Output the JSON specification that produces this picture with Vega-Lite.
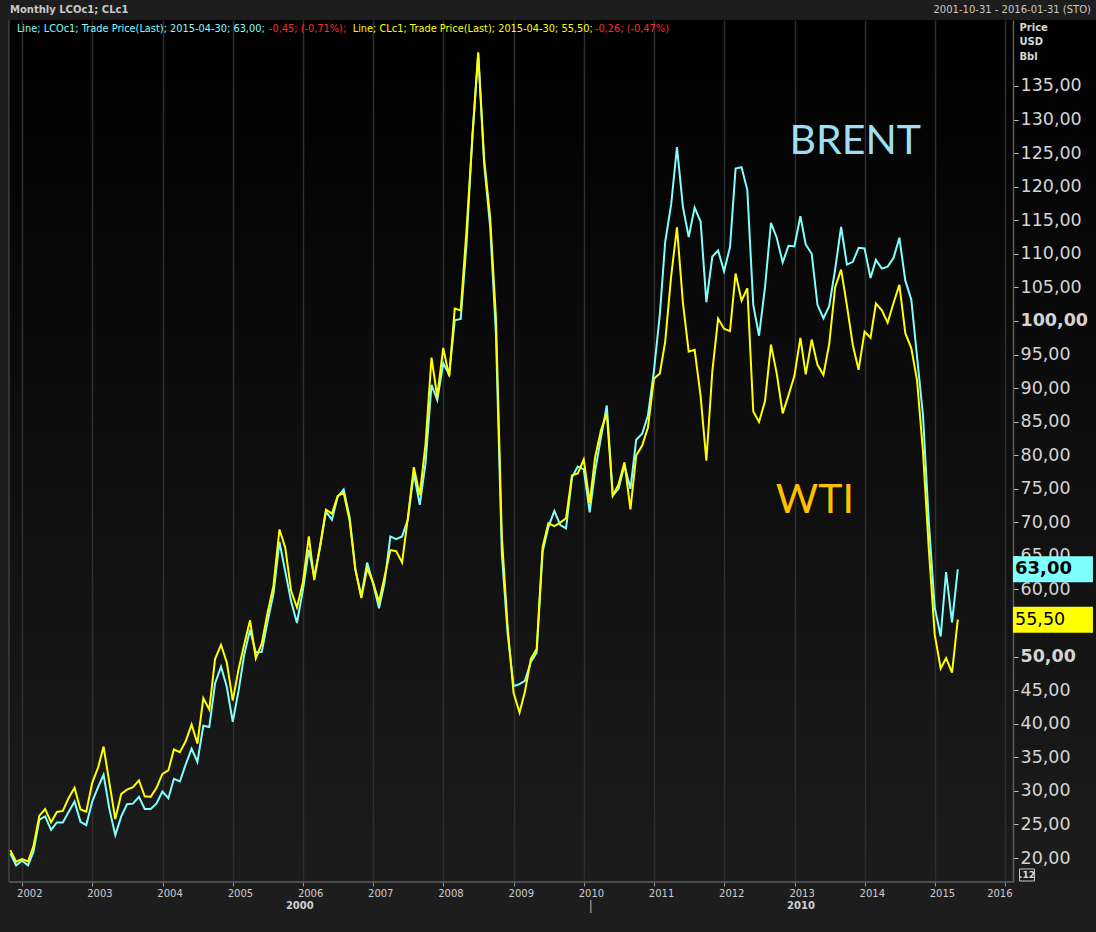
{
  "$schema": "https://vega.github.io/schema/vega-lite/v6.json",
  "width": 1087,
  "height": 862,
  "autosize": {"type": "none"},
  "padding": {"left": 9, "top": 20, "right": 0, "bottom": 50},
  "background": "#1d1d1d",
  "config": {
    "locale": {"number": {"decimal": ",", "thousands": ".", "grouping": [3], "currency": ["", ""]}},
    "view": {"stroke": null, "fill": {"gradient": "linear", "x1": 0, "y1": 0, "x2": 0, "y2": 1, "stops": [{"offset": 0, "color": "#000000"}, {"offset": 1, "color": "#1c1c1c"}]}},
    "axisY": {"labelOverlap": false, "labelBound": false, "labelSeparation": -40},
    "text": {"font": "DejaVu Sans"}
  },
  "datasets": {
    "brent": [
      {"date":"2001-10-31","price":20.7},{"date":"2001-11-30","price":18.9},{"date":"2001-12-31","price":19.6},
      {"date":"2002-01-31","price":18.9},{"date":"2002-02-28","price":20.9},{"date":"2002-03-31","price":25.7},{"date":"2002-04-30","price":26.2},{"date":"2002-05-31","price":24.2},{"date":"2002-06-30","price":25.3},{"date":"2002-07-31","price":25.3},{"date":"2002-08-31","price":26.9},{"date":"2002-09-30","price":28.4},{"date":"2002-10-31","price":25.4},{"date":"2002-11-30","price":24.9},{"date":"2002-12-31","price":28.4},
      {"date":"2003-01-31","price":30.6},{"date":"2003-02-28","price":32.4},{"date":"2003-03-31","price":27.2},{"date":"2003-04-30","price":23.4},{"date":"2003-05-31","price":26.2},{"date":"2003-06-30","price":28.0},{"date":"2003-07-31","price":28.1},{"date":"2003-08-31","price":29.1},{"date":"2003-09-30","price":27.3},{"date":"2003-10-31","price":27.3},{"date":"2003-11-30","price":28.1},{"date":"2003-12-31","price":29.9},
      {"date":"2004-01-31","price":28.9},{"date":"2004-02-29","price":31.8},{"date":"2004-03-31","price":31.4},{"date":"2004-04-30","price":33.9},{"date":"2004-05-31","price":36.3},{"date":"2004-06-30","price":34.3},{"date":"2004-07-31","price":39.7},{"date":"2004-08-31","price":39.5},{"date":"2004-09-30","price":46.0},{"date":"2004-10-31","price":48.5},{"date":"2004-11-30","price":45.5},{"date":"2004-12-31","price":40.3},
      {"date":"2005-01-31","price":45.0},{"date":"2005-02-28","price":50.2},{"date":"2005-03-31","price":54.0},{"date":"2005-04-30","price":50.6},{"date":"2005-05-31","price":50.7},{"date":"2005-06-30","price":55.2},{"date":"2005-07-31","price":59.4},{"date":"2005-08-31","price":67.1},{"date":"2005-09-30","price":62.7},{"date":"2005-10-31","price":58.2},{"date":"2005-11-30","price":55.0},{"date":"2005-12-31","price":59.9},
      {"date":"2006-01-31","price":65.9},{"date":"2006-02-28","price":61.9},{"date":"2006-03-31","price":66.4},{"date":"2006-04-30","price":71.6},{"date":"2006-05-31","price":70.4},{"date":"2006-06-30","price":73.8},{"date":"2006-07-31","price":74.9},{"date":"2006-08-31","price":70.8},{"date":"2006-09-30","price":63.0},{"date":"2006-10-31","price":59.0},{"date":"2006-11-30","price":64.0},{"date":"2006-12-31","price":60.9},
      {"date":"2007-01-31","price":57.2},{"date":"2007-02-28","price":60.9},{"date":"2007-03-31","price":67.9},{"date":"2007-04-30","price":67.5},{"date":"2007-05-31","price":67.9},{"date":"2007-06-30","price":70.4},{"date":"2007-07-31","price":77.3},{"date":"2007-08-31","price":72.6},{"date":"2007-09-30","price":78.8},{"date":"2007-10-31","price":90.5},{"date":"2007-11-30","price":88.2},{"date":"2007-12-31","price":93.7},
      {"date":"2008-01-31","price":92.0},{"date":"2008-02-29","price":100.1},{"date":"2008-03-31","price":100.3},{"date":"2008-04-30","price":111.4},{"date":"2008-05-31","price":127.8},{"date":"2008-06-30","price":139.8},{"date":"2008-07-31","price":123.3},{"date":"2008-08-31","price":114.1},{"date":"2008-09-30","price":98.2},{"date":"2008-10-31","price":65.3},{"date":"2008-11-30","price":53.5},{"date":"2008-12-31","price":45.6},
      {"date":"2009-01-31","price":45.9},{"date":"2009-02-28","price":46.4},{"date":"2009-03-31","price":49.2},{"date":"2009-04-30","price":50.6},{"date":"2009-05-31","price":65.6},{"date":"2009-06-30","price":69.3},{"date":"2009-07-31","price":71.7},{"date":"2009-08-31","price":69.6},{"date":"2009-09-30","price":69.1},{"date":"2009-10-31","price":76.7},{"date":"2009-11-30","price":78.3},{"date":"2009-12-31","price":77.9},
      {"date":"2010-01-31","price":71.5},{"date":"2010-02-28","price":77.6},{"date":"2010-03-31","price":82.7},{"date":"2010-04-30","price":87.4},{"date":"2010-05-31","price":74.0},{"date":"2010-06-30","price":75.0},{"date":"2010-07-31","price":78.5},{"date":"2010-08-31","price":75.0},{"date":"2010-09-30","price":82.3},{"date":"2010-10-31","price":83.2},{"date":"2010-11-30","price":85.9},{"date":"2010-12-31","price":92.5},
      {"date":"2011-01-31","price":101.0},{"date":"2011-02-28","price":111.8},{"date":"2011-03-31","price":117.4},{"date":"2011-04-30","price":125.9},{"date":"2011-05-31","price":117.0},{"date":"2011-06-30","price":112.5},{"date":"2011-07-31","price":116.9},{"date":"2011-08-31","price":114.8},{"date":"2011-09-30","price":102.8},{"date":"2011-10-31","price":109.6},{"date":"2011-11-30","price":110.5},{"date":"2011-12-31","price":107.4},
      {"date":"2012-01-31","price":111.0},{"date":"2012-02-29","price":122.7},{"date":"2012-03-31","price":122.9},{"date":"2012-04-30","price":119.5},{"date":"2012-05-31","price":102.4},{"date":"2012-06-30","price":97.8},{"date":"2012-07-31","price":105.0},{"date":"2012-08-31","price":114.6},{"date":"2012-09-30","price":112.4},{"date":"2012-10-31","price":108.7},{"date":"2012-11-30","price":111.2},{"date":"2012-12-31","price":111.1},
      {"date":"2013-01-31","price":115.6},{"date":"2013-02-28","price":111.4},{"date":"2013-03-31","price":110.0},{"date":"2013-04-30","price":102.4},{"date":"2013-05-31","price":100.4},{"date":"2013-06-30","price":102.2},{"date":"2013-07-31","price":107.7},{"date":"2013-08-31","price":114.0},{"date":"2013-09-30","price":108.4},{"date":"2013-10-31","price":108.8},{"date":"2013-11-30","price":110.9},{"date":"2013-12-31","price":110.8},
      {"date":"2014-01-31","price":106.4},{"date":"2014-02-28","price":109.1},{"date":"2014-03-31","price":107.8},{"date":"2014-04-30","price":108.1},{"date":"2014-05-31","price":109.4},{"date":"2014-06-30","price":112.4},{"date":"2014-07-31","price":106.0},{"date":"2014-08-31","price":103.2},{"date":"2014-09-30","price":94.7},{"date":"2014-10-31","price":85.9},{"date":"2014-11-30","price":70.2},{"date":"2014-12-31","price":57.3},
      {"date":"2015-01-31","price":53.0},{"date":"2015-02-28","price":62.6},{"date":"2015-03-31","price":55.1},{"date":"2015-04-30","price":63.0}
    ],
    "wti": [
      {"date":"2001-10-31","price":21.18},{"date":"2001-11-30","price":19.44},{"date":"2001-12-31","price":19.84},
      {"date":"2002-01-31","price":19.48},{"date":"2002-02-28","price":21.74},{"date":"2002-03-31","price":26.31},{"date":"2002-04-30","price":27.29},{"date":"2002-05-31","price":25.31},{"date":"2002-06-30","price":26.86},{"date":"2002-07-31","price":27.02},{"date":"2002-08-31","price":28.98},{"date":"2002-09-30","price":30.45},{"date":"2002-10-31","price":27.22},{"date":"2002-11-30","price":26.89},{"date":"2002-12-31","price":31.2},
      {"date":"2003-01-31","price":33.51},{"date":"2003-02-28","price":36.6},{"date":"2003-03-31","price":31.04},{"date":"2003-04-30","price":25.8},{"date":"2003-05-31","price":29.56},{"date":"2003-06-30","price":30.19},{"date":"2003-07-31","price":30.54},{"date":"2003-08-31","price":31.57},{"date":"2003-09-30","price":29.2},{"date":"2003-10-31","price":29.11},{"date":"2003-11-30","price":30.41},{"date":"2003-12-31","price":32.52},
      {"date":"2004-01-31","price":33.05},{"date":"2004-02-29","price":36.16},{"date":"2004-03-31","price":35.76},{"date":"2004-04-30","price":37.38},{"date":"2004-05-31","price":39.88},{"date":"2004-06-30","price":37.05},{"date":"2004-07-31","price":43.8},{"date":"2004-08-31","price":42.12},{"date":"2004-09-30","price":49.64},{"date":"2004-10-31","price":51.76},{"date":"2004-11-30","price":49.13},{"date":"2004-12-31","price":43.45},
      {"date":"2005-01-31","price":48.2},{"date":"2005-02-28","price":51.75},{"date":"2005-03-31","price":55.4},{"date":"2005-04-30","price":49.72},{"date":"2005-05-31","price":51.97},{"date":"2005-06-30","price":56.5},{"date":"2005-07-31","price":60.57},{"date":"2005-08-31","price":68.94},{"date":"2005-09-30","price":66.24},{"date":"2005-10-31","price":59.76},{"date":"2005-11-30","price":57.32},{"date":"2005-12-31","price":61.04},
      {"date":"2006-01-31","price":67.92},{"date":"2006-02-28","price":61.41},{"date":"2006-03-31","price":66.63},{"date":"2006-04-30","price":71.88},{"date":"2006-05-31","price":71.29},{"date":"2006-06-30","price":73.93},{"date":"2006-07-31","price":74.4},{"date":"2006-08-31","price":70.26},{"date":"2006-09-30","price":62.91},{"date":"2006-10-31","price":58.73},{"date":"2006-11-30","price":63.13},{"date":"2006-12-31","price":61.05},
      {"date":"2007-01-31","price":58.14},{"date":"2007-02-28","price":61.79},{"date":"2007-03-31","price":65.87},{"date":"2007-04-30","price":65.71},{"date":"2007-05-31","price":64.01},{"date":"2007-06-30","price":70.68},{"date":"2007-07-31","price":78.21},{"date":"2007-08-31","price":74.04},{"date":"2007-09-30","price":81.66},{"date":"2007-10-31","price":94.53},{"date":"2007-11-30","price":88.71},{"date":"2007-12-31","price":95.98},
      {"date":"2008-01-31","price":91.75},{"date":"2008-02-29","price":101.84},{"date":"2008-03-31","price":101.58},{"date":"2008-04-30","price":113.46},{"date":"2008-05-31","price":127.35},{"date":"2008-06-30","price":140.0},{"date":"2008-07-31","price":124.08},{"date":"2008-08-31","price":115.46},{"date":"2008-09-30","price":100.64},{"date":"2008-10-31","price":67.81},{"date":"2008-11-30","price":54.43},{"date":"2008-12-31","price":44.6},
      {"date":"2009-01-31","price":41.68},{"date":"2009-02-28","price":44.76},{"date":"2009-03-31","price":49.66},{"date":"2009-04-30","price":51.12},{"date":"2009-05-31","price":66.31},{"date":"2009-06-30","price":69.89},{"date":"2009-07-31","price":69.45},{"date":"2009-08-31","price":69.96},{"date":"2009-09-30","price":70.61},{"date":"2009-10-31","price":77.0},{"date":"2009-11-30","price":77.28},{"date":"2009-12-31","price":79.36},
      {"date":"2010-01-31","price":72.89},{"date":"2010-02-28","price":79.66},{"date":"2010-03-31","price":83.76},{"date":"2010-04-30","price":86.15},{"date":"2010-05-31","price":73.97},{"date":"2010-06-30","price":75.63},{"date":"2010-07-31","price":78.95},{"date":"2010-08-31","price":71.92},{"date":"2010-09-30","price":79.97},{"date":"2010-10-31","price":81.43},{"date":"2010-11-30","price":84.11},{"date":"2010-12-31","price":91.38},
      {"date":"2011-01-31","price":92.19},{"date":"2011-02-28","price":96.97},{"date":"2011-03-31","price":106.72},{"date":"2011-04-30","price":113.93},{"date":"2011-05-31","price":102.7},{"date":"2011-06-30","price":95.42},{"date":"2011-07-31","price":95.7},{"date":"2011-08-31","price":88.81},{"date":"2011-09-30","price":79.2},{"date":"2011-10-31","price":92.5},{"date":"2011-11-30","price":100.36},{"date":"2011-12-31","price":98.83},
      {"date":"2012-01-31","price":98.48},{"date":"2012-02-29","price":107.07},{"date":"2012-03-31","price":103.02},{"date":"2012-04-30","price":104.87},{"date":"2012-05-31","price":86.53},{"date":"2012-06-30","price":84.96},{"date":"2012-07-31","price":88.06},{"date":"2012-08-31","price":96.47},{"date":"2012-09-30","price":92.19},{"date":"2012-10-31","price":86.24},{"date":"2012-11-30","price":88.91},{"date":"2012-12-31","price":91.82},
      {"date":"2013-01-31","price":97.49},{"date":"2013-02-28","price":92.05},{"date":"2013-03-31","price":97.23},{"date":"2013-04-30","price":93.46},{"date":"2013-05-31","price":91.97},{"date":"2013-06-30","price":96.56},{"date":"2013-07-31","price":105.03},{"date":"2013-08-31","price":107.65},{"date":"2013-09-30","price":102.33},{"date":"2013-10-31","price":96.38},{"date":"2013-11-30","price":92.72},{"date":"2013-12-31","price":98.42},
      {"date":"2014-01-31","price":97.49},{"date":"2014-02-28","price":102.59},{"date":"2014-03-31","price":101.58},{"date":"2014-04-30","price":99.74},{"date":"2014-05-31","price":102.71},{"date":"2014-06-30","price":105.37},{"date":"2014-07-31","price":98.17},{"date":"2014-08-31","price":95.96},{"date":"2014-09-30","price":91.16},{"date":"2014-10-31","price":80.54},{"date":"2014-11-30","price":66.15},{"date":"2014-12-31","price":53.27},
      {"date":"2015-01-31","price":48.24},{"date":"2015-02-28","price":49.76},{"date":"2015-03-31","price":47.6},{"date":"2015-04-30","price":55.5}
    ],
    "last": [
      {"series":"Brent","price":63.0},
      {"series":"WTI","price":55.5}
    ]
  },
  "layer": [
    {
      "data": {"name": "brent"},
      "mark": {"type": "line", "color": "#80ffff", "strokeWidth": 2},
      "encoding": {
        "x": {"field": "date", "type": "temporal",
          "scale": {"type": "utc", "domain": [{"year": 2001, "month": 10, "date": 24, "utc": true}, {"year": 2017, "month": 4, "date": 18, "utc": true}], "nice": false},
          "axis": {
            "values": [{"year":2002,"utc":true},{"year":2003,"utc":true},{"year":2004,"utc":true},{"year":2005,"utc":true},{"year":2006,"utc":true},{"year":2007,"utc":true},{"year":2008,"utc":true},{"year":2009,"utc":true},{"year":2010,"utc":true},{"year":2011,"utc":true},{"year":2012,"utc":true},{"year":2013,"utc":true},{"year":2014,"utc":true},{"year":2015,"utc":true},{"year":2016,"utc":true}],
            "format": "%Y", "formatType": "utc",
            "grid": true, "gridColor": "#2f2f2f", "gridWidth": 1.5,
            "domain": false,
            "ticks": true, "tickColor": "#9a9a9a", "tickSize": 4,
            "labelColor": "#cdcdcd", "labelFont": "DejaVu Sans", "labelFontSize": 10, "labelPadding": 2, "labelOffset": 7,
            "labelAlign": {"condition": {"test": "utcyear(datum.value) == 2016", "value": "right"}, "value": "center"},
            "labelFlush": false,
            "title": null
          }
        },
        "y": {"field": "price", "type": "quantitative",
          "scale": {"domain": [16.425, 144.83], "nice": false, "zero": false},
          "axis": {
            "orient": "right", "offset": -83,
            "values": [20,25,30,35,40,45,50,55,60,65,70,75,80,85,90,95,100,105,110,115,120,125,130,135],
            "tickCount": 24,
            "format": ".2f",
            "grid": false,
            "domain": true, "domainColor": "#5e5e5e", "domainWidth": 1.5,
            "ticks": true, "tickColor": "#c0c0c0", "tickSize": 5,
            "labelColor": "#d4d4d4", "labelFont": "DejaVu Sans", "labelFontSize": 17.5, "labelPadding": 2,
            "labelOverlap": false, "labelBound": false, "labelSeparation": -40,
            "labelFontWeight": {"condition": {"test": "datum.value == 50 || datum.value == 100", "value": "bold"}, "value": "normal"},
            "title": ["Price", "USD", "Bbl"],
            "titleAngle": 0, "titleAlign": "left", "titleBaseline": "top",
            "titleX": 6, "titleY": 2,
            "titleFont": "DejaVu Sans", "titleFontSize": 10, "titleFontWeight": "bold", "titleColor": "#d8d8d8", "titleLineHeight": 14.5
          }
        }
      }
    },
    {
      "data": {"name": "wti"},
      "mark": {"type": "line", "color": "#ffff00", "strokeWidth": 2},
      "encoding": {
        "x": {"field": "date", "type": "temporal"},
        "y": {"field": "price", "type": "quantitative"}
      }
    },
    {
      "data": {"values": [{}]},
      "mark": {"type": "rule", "color": "#5e5e5e", "strokeWidth": 1.5},
      "encoding": {
        "x": {"datum": {"year": 2001, "month": 10, "date": 24, "utc": true}, "type": "temporal"},
        "x2": {"datum": {"year": 2016, "month": 2, "date": 11, "utc": true}},
        "y": {"datum": 16.425, "type": "quantitative"}
      }
    },
    {
      "data": {"values": [{}]},
      "mark": {"type": "rule", "color": "#555555", "strokeWidth": 1},
      "encoding": {
        "x": {"datum": {"year": 2001, "month": 10, "date": 24, "utc": true}, "type": "temporal"},
        "y": {"datum": 16.425, "type": "quantitative"},
        "y2": {"datum": 144.83}
      }
    },
    {
      "data": {"values": [{}]},
      "mark": {"type": "rule", "color": "#bbbbbb", "strokeWidth": 1},
      "encoding": {
        "x": {"datum": {"year": 2010, "month": 2, "date": 6, "utc": true}, "type": "temporal"},
        "y": {"datum": 13.74, "type": "quantitative"},
        "y2": {"datum": 11.81}
      }
    },
    {
      "data": {"values": [{}]},
      "mark": {"type": "text", "text": "2000", "font": "DejaVu Sans", "fontSize": 10, "fontWeight": "bold", "color": "#d0d0d0", "align": "center", "baseline": "middle"},
      "encoding": {
        "x": {"datum": {"year": 2005, "month": 12, "date": 15, "utc": true}, "type": "temporal"},
        "y": {"datum": 12.85, "type": "quantitative"}
      }
    },
    {
      "data": {"values": [{}]},
      "mark": {"type": "text", "text": "2010", "font": "DejaVu Sans", "fontSize": 10, "fontWeight": "bold", "color": "#d0d0d0", "align": "center", "baseline": "middle"},
      "encoding": {
        "x": {"datum": {"year": 2013, "month": 2, "date": 3, "utc": true}, "type": "temporal"},
        "y": {"datum": 12.85, "type": "quantitative"}
      }
    },
    {
      "data": {"values": [{}]},
      "mark": {"type": "point", "shape": "M-1,-0.8H1V0.8H-1Z", "size": 225, "filled": false, "stroke": "#cccccc", "strokeWidth": 1, "opacity": 1},
      "encoding": {
        "x": {"datum": {"year": 2016, "month": 4, "date": 24, "utc": true}, "type": "temporal"},
        "y": {"datum": 17.47, "type": "quantitative"}
      }
    },
    {
      "data": {"values": [{}]},
      "mark": {"type": "text", "text": ".12", "font": "DejaVu Sans", "fontSize": 9, "fontWeight": "bold", "color": "#dddddd", "align": "center", "baseline": "middle"},
      "encoding": {
        "x": {"datum": {"year": 2016, "month": 4, "date": 24, "utc": true}, "type": "temporal"},
        "y": {"datum": 17.47, "type": "quantitative"}
      }
    },
    {
      "data": {"values": [{}]},
      "mark": {"type": "text", "text": "Monthly LCOc1; CLc1", "font": "DejaVu Sans", "fontSize": 10, "fontWeight": "bold", "color": "#c8c8c8", "align": "left", "baseline": "middle"},
      "encoding": {
        "x": {"datum": {"year": 2001, "month": 10, "date": 29, "utc": true}, "type": "temporal"},
        "y": {"datum": 146.25, "type": "quantitative"}
      }
    },
    {
      "data": {"values": [{}]},
      "mark": {"type": "text", "text": "2001-10-31 - 2016-01-31 (STO)", "font": "DejaVu Sans", "fontSize": 10, "color": "#c8c8c8", "align": "right", "baseline": "middle"},
      "encoding": {
        "x": {"datum": {"year": 2017, "month": 3, "date": 23, "utc": true}, "type": "temporal"},
        "y": {"datum": 146.25, "type": "quantitative"}
      }
    },
    {
      "data": {"values": [{}]},
      "mark": {"type": "text", "text": "Line; LCOc1; Trade Price(Last);  2015-04-30; 63,00;", "font": "DejaVu Sans", "fontSize": 9.8, "color": "#7fffff", "align": "left", "baseline": "middle"},
      "encoding": {
        "x": {"datum": {"year": 2001, "month": 12, "date": 4, "utc": true}, "type": "temporal"},
        "y": {"datum": 143.49, "type": "quantitative"}
      }
    },
    {
      "data": {"values": [{}]},
      "mark": {"type": "text", "text": "-0,45; (-0,71%);", "font": "DejaVu Sans", "fontSize": 9.8, "color": "#ff2a2a", "align": "left", "baseline": "middle"},
      "encoding": {
        "x": {"datum": {"year": 2005, "month": 7, "date": 7, "utc": true}, "type": "temporal"},
        "y": {"datum": 143.49, "type": "quantitative"}
      }
    },
    {
      "data": {"values": [{}]},
      "mark": {"type": "text", "text": "Line; CLc1; Trade Price(Last);  2015-04-30; 55,50;", "font": "DejaVu Sans", "fontSize": 9.8, "color": "#ffff00", "align": "left", "baseline": "middle"},
      "encoding": {
        "x": {"datum": {"year": 2006, "month": 9, "date": 16, "utc": true}, "type": "temporal"},
        "y": {"datum": 143.49, "type": "quantitative"}
      }
    },
    {
      "data": {"values": [{}]},
      "mark": {"type": "text", "text": "-0,26; (-0,47%)", "font": "DejaVu Sans", "fontSize": 9.8, "color": "#ff2a2a", "align": "left", "baseline": "middle"},
      "encoding": {
        "x": {"datum": {"year": 2010, "month": 2, "date": 27, "utc": true}, "type": "temporal"},
        "y": {"datum": 143.49, "type": "quantitative"}
      }
    },
    {
      "data": {"values": [{}]},
      "mark": {"type": "text", "text": "BRENT", "font": "Lato", "fontSize": 41, "color": "#9ddff0", "align": "left", "baseline": "alphabetic"},
      "encoding": {
        "x": {"datum": {"year": 2012, "month": 12, "date": 6, "utc": true}, "type": "temporal"},
        "y": {"datum": 124.83, "type": "quantitative"}
      }
    },
    {
      "data": {"values": [{}]},
      "mark": {"type": "text", "text": "WTI", "font": "Lato", "fontSize": 41, "color": "#ffc000", "align": "left", "baseline": "alphabetic"},
      "encoding": {
        "x": {"datum": {"year": 2012, "month": 9, "date": 25, "utc": true}, "type": "temporal"},
        "y": {"datum": 71.35, "type": "quantitative"}
      }
    },
    {
      "data": {"name": "last"},
      "mark": {"type": "point", "shape": "M-1,-0.325H1V0.325H-1Z", "size": 6400, "filled": true, "opacity": 1, "strokeWidth": 0},
      "encoding": {
        "x": {"datum": {"year": 2016, "month": 9, "date": 6, "utc": true}, "type": "temporal"},
        "y": {"field": "price", "type": "quantitative"},
        "color": {"field": "series", "type": "nominal", "scale": {"domain": ["Brent", "WTI"], "range": ["#80ffff", "#ffff00"]}, "legend": null}
      }
    },
    {
      "data": {"name": "last"},
      "transform": [{"filter": {"field": "series", "equal": "Brent"}}],
      "mark": {"type": "text", "font": "DejaVu Sans", "fontSize": 18, "fontWeight": "bold", "color": "#000000", "align": "left", "baseline": "middle"},
      "encoding": {
        "x": {"datum": {"year": 2016, "month": 2, "date": 22, "utc": true}, "type": "temporal"},
        "y": {"field": "price", "type": "quantitative"},
        "text": {"field": "price", "type": "quantitative", "format": ".2f"}
      }
    },
    {
      "data": {"name": "last"},
      "transform": [{"filter": {"field": "series", "equal": "WTI"}}],
      "mark": {"type": "text", "font": "DejaVu Sans", "fontSize": 17.5, "color": "#000000", "align": "left", "baseline": "middle"},
      "encoding": {
        "x": {"datum": {"year": 2016, "month": 2, "date": 22, "utc": true}, "type": "temporal"},
        "y": {"field": "price", "type": "quantitative"},
        "text": {"field": "price", "type": "quantitative", "format": ".2f"}
      }
    }
  ]
}
